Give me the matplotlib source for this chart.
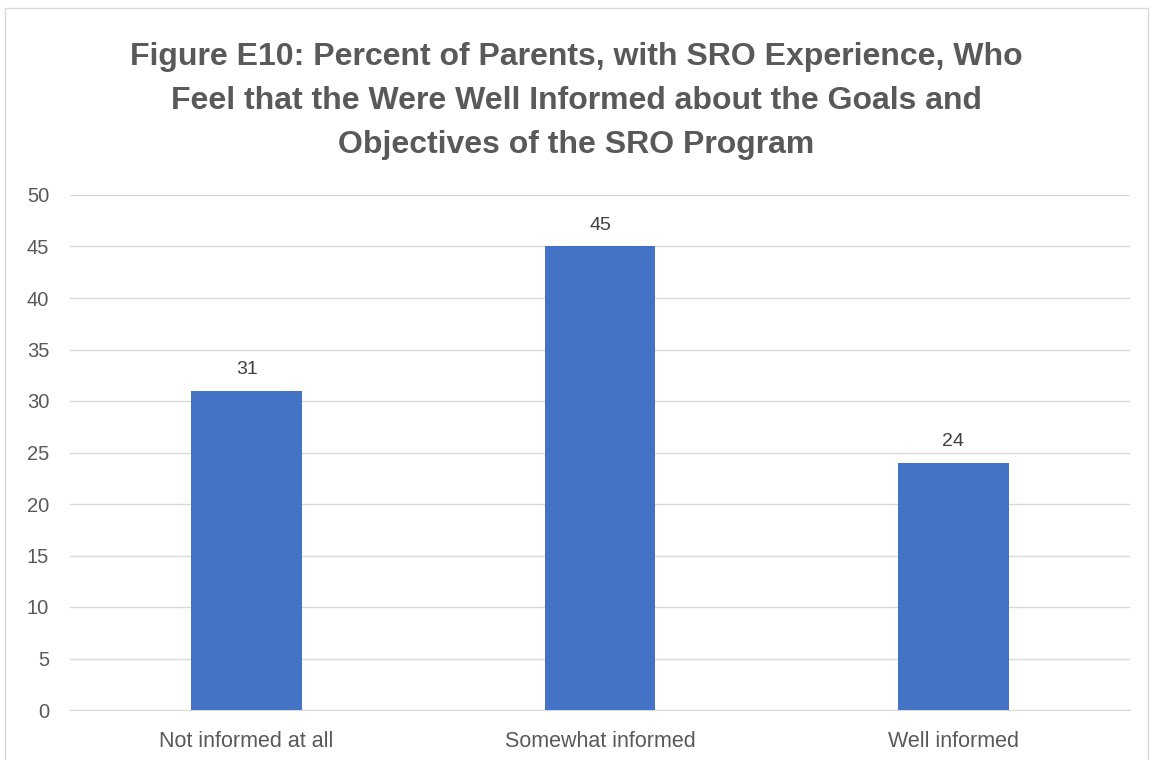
import matplotlib
matplotlib.use("Agg")
import matplotlib.pyplot as plt
from matplotlib.patches import Rectangle
import numpy as np

CATEGORIES = ["Not informed at all", "Somewhat informed", "Well informed"]
PERCENTS = [31, 45, 24]
Y_TICKS = list(range(0, 55, 5))

TITLE = ("Figure E10: Percent of Parents, with SRO Experience, Who\n"
         "Feel that the Were Well Informed about the Goals and\n"
         "Objectives of the SRO Program")

BAR_COLOR = "#4472C4"
TEXT_COLOR = "#595959"
GRID_COLOR = "#D9D9D9"

plt.rcParams["font.family"] = ["Liberation Sans", "DejaVu Sans"]

fig = plt.figure(figsize=(11.53, 7.6), dpi=100)
ax = fig.add_axes([70 / 1153, 1 - 710 / 760, 1060 / 1153, 515 / 760])

x = np.arange(len(CATEGORIES))
bars = ax.bar(x, PERCENTS, width=0.314, color=BAR_COLOR, zorder=3)
for rect, val in zip(bars, PERCENTS):
    ax.annotate(f"{val}", (rect.get_x() + rect.get_width() / 2, val),
                xytext=(0, 9), textcoords="offset points",
                ha="center", va="bottom", fontsize=14, color="#404040")

ax.set_xlim(-0.5, len(CATEGORIES) - 0.5)
ax.set_ylim(0, 50)
ax.set_yticks(Y_TICKS)
ax.set_xticks(x)
ax.set_xticklabels(CATEGORIES)
ax.tick_params(axis="both", length=0, labelsize=14.5, labelcolor=TEXT_COLOR)
ax.tick_params(axis="x", labelsize=15.5, pad=15)
ax.tick_params(axis="y", pad=15)
ax.grid(True, axis="y", color=GRID_COLOR, linewidth=1, zorder=0)
for side in ["top", "right", "left"]:
    ax.spines[side].set_visible(False)
ax.spines["bottom"].set_color(GRID_COLOR)

fig.text(0.5, 1 - 101 / 760, TITLE, ha="center", va="center",
         fontsize=23, fontweight="bold", color=TEXT_COLOR, linespacing=1.62)

fig.patches.append(Rectangle((5 / 1153, -0.01), 1143 / 1153, 1 - 8 / 760 + 0.01,
                             transform=fig.transFigure, fill=False,
                             edgecolor="#D9D9D9", linewidth=1))

fig.savefig("out.png", dpi=100)
